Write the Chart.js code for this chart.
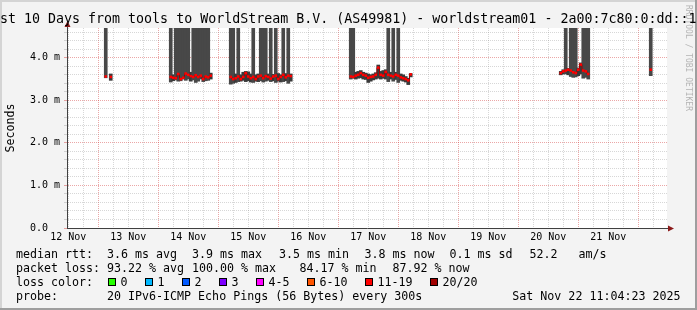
<!DOCTYPE html>
<html lang="en">
<head>
<meta charset="UTF-8">
<title>SmokePing - worldstream01 - Last 10 Days</title>
<script src="https://cdn.jsdelivr.net/npm/chart.js"></script>
<style>
  html, body { margin: 0; padding: 0; background: #f3f3f3; }
  canvas { display: block; }
</style>
</head>
<body>
<canvas id="smokeChart" width="697" height="310"></canvas>
<script>
// x values are hours since 12 Nov 00:00, one sample per hour
const graphStart = 11.5;
const graphEnd = 251.5;

const dayLabels = ['12 Nov', '13 Nov', '14 Nov', '15 Nov', '16 Nov', '17 Nov', '18 Nov', '19 Nov', '20 Nov', '21 Nov'];
const yLabels = ['0.0  ', '1.0 m', '2.0 m', '3.0 m', '4.0 m'];

const hours = [
  27, 29,
  53, 54, 55, 56, 57, 58, 59, 60, 61, 62, 63, 64, 65, 66, 67, 68, 69,
  77, 78, 79, 80, 81, 82, 83, 84, 85, 86, 87, 88, 89, 90, 91, 92, 93, 94, 95, 96, 97, 98, 99, 100, 101,
  125, 126, 127, 128, 129, 130, 131, 132, 133, 134, 135, 136, 137, 138, 139, 140, 141, 142, 143, 144, 145, 146, 147, 148, 149,
  209, 210, 211, 212, 213, 214, 215, 216, 217, 218, 219, 220,
  245
];
// median rtt in ms
const median = [
  3.56, 3.55,
  3.55, 3.53, 3.52, 3.62, 3.50, 3.53, 3.63, 3.60, 3.57, 3.55, 3.59, 3.55, 3.58, 3.50, 3.56, 3.54, 3.58,
  3.55, 3.50, 3.52, 3.56, 3.50, 3.55, 3.64, 3.56, 3.52, 3.55, 3.50, 3.56, 3.58, 3.52, 3.57, 3.55, 3.51, 3.56, 3.58, 3.50, 3.55, 3.60, 3.54, 3.58, 3.57,
  3.56, 3.55, 3.58, 3.60, 3.64, 3.60, 3.58, 3.53, 3.55, 3.56, 3.60, 3.77, 3.60, 3.58, 3.67, 3.60, 3.58, 3.56, 3.60, 3.58, 3.54, 3.52, 3.50, 3.47, 3.61,
  3.64, 3.68, 3.70, 3.72, 3.70, 3.66, 3.64, 3.72, 3.84, 3.70, 3.68, 3.62,
  3.72
];
// smoke (ping spread) bottom and top in ms; 5 means the smoke runs off the top of the graph
const smokeLow = [
  3.53, 3.47,
  3.43, 3.46, 3.48, 3.45, 3.46, 3.50, 3.47, 3.50, 3.45, 3.48, 3.42, 3.45, 3.50, 3.44, 3.46, 3.47, 3.50,
  3.38, 3.40, 3.42, 3.44, 3.45, 3.47, 3.44, 3.46, 3.43, 3.42, 3.45, 3.44, 3.46, 3.43, 3.45, 3.47, 3.44, 3.46, 3.42, 3.45, 3.43, 3.44, 3.46, 3.40, 3.45,
  3.50, 3.52, 3.50, 3.52, 3.53, 3.50, 3.49, 3.42, 3.45, 3.48, 3.50, 3.52, 3.50, 3.52, 3.50, 3.44, 3.50, 3.45, 3.49, 3.42, 3.47, 3.45, 3.43, 3.37, 3.55,
  3.60, 3.62, 3.62, 3.60, 3.56, 3.54, 3.55, 3.58, 3.62, 3.52, 3.54, 3.50,
  3.58
];
const smokeHigh = [
  5, 3.62,
  5, 3.60, 5, 5, 5, 5, 5, 5, 3.66, 5, 5, 5, 5, 5, 5, 5, 3.64,
  5, 5, 3.62, 5, 3.60, 3.66, 3.68, 3.67, 3.62, 5, 3.60, 3.62, 5, 5, 5, 3.62, 5, 3.61, 5, 3.63, 3.60, 5, 3.63, 5, 3.62,
  5, 5, 3.66, 3.68, 3.70, 3.66, 3.64, 3.62, 3.60, 3.62, 3.65, 3.83, 3.68, 3.70, 3.72, 5, 3.66, 5, 3.66, 5, 3.62, 3.60, 3.56, 3.52, 3.63,
  3.68, 3.72, 5, 3.75, 5, 5, 5, 3.76, 3.88, 5, 5, 5,
  5
];

const titleText = 'Last 10 Days from tools to WorldStream B.V. (AS49981) - worldstream01 - 2a00:7c80:0:dd::1';
const rttStats = ['3.6 ms avg', '3.9 ms max', '3.5 ms min', '3.8 ms now', '0.1 ms sd', '52.2', 'am/s'];
const lossStats = ['93.22 % avg', '100.00 % max', '84.17 % min', '87.92 % now'];
const lossLabels = ['0', '1', '2', '3', '4-5', '6-10', '11-19', '20/20'];
const lossColors = ['#26ff00', '#00b8ff', '#0059ff', '#7e00ff', '#ff00ff', '#ff5500', '#ff0000', '#a10000'];
const probeText = '20 IPv6-ICMP Echo Pings (56 Bytes) every 300s';
const stampText = 'Sat Nov 22 11:04:23 2025';

const mono = 'DejaVu Sans Mono';
const minorGrid = 'rgba(140,140,140,0.35)';
const majorGrid = 'rgba(210,60,60,0.45)';

// rrdtool style frame, title, watermark and legend
const rrdDecor = {
    id: 'rrdDecor',
    beforeDraw(chart) {
        const {ctx, chartArea: a, width, height} = chart;
        ctx.save();
        ctx.fillStyle = '#f3f3f3';
        ctx.fillRect(0, 0, width, height);
        ctx.fillStyle = '#d4d4d4';
        ctx.fillRect(0, 0, width, 2);
        ctx.fillRect(0, 0, 2, height);
        ctx.fillStyle = '#9e9e9e';
        ctx.fillRect(0, height - 2, width, 2);
        ctx.fillRect(width - 2, 0, 2, height);
        ctx.fillStyle = '#ffffff';
        ctx.fillRect(a.left, a.top, a.right - a.left, a.bottom - a.top);
        ctx.restore();
    },
    afterDraw(chart) {
        const {ctx, chartArea: a} = chart;
        ctx.save();

        // axis arrows
        ctx.strokeStyle = '#404040';
        ctx.lineWidth = 1;
        ctx.beginPath();
        ctx.moveTo(a.left + 0.5, a.top);
        ctx.lineTo(a.left + 0.5, a.top - 3);
        ctx.moveTo(a.right, a.bottom + 0.5);
        ctx.lineTo(a.right + 2, a.bottom + 0.5);
        ctx.stroke();
        ctx.fillStyle = '#8b1a1a';
        ctx.beginPath();
        ctx.moveTo(a.left + 0.5, a.top - 7);
        ctx.lineTo(a.left - 2.5, a.top - 1);
        ctx.lineTo(a.left + 3.5, a.top - 1);
        ctx.closePath();
        ctx.fill();
        ctx.beginPath();
        ctx.moveTo(a.right + 7, a.bottom + 0.5);
        ctx.lineTo(a.right + 1, a.bottom - 2.5);
        ctx.lineTo(a.right + 1, a.bottom + 3.5);
        ctx.closePath();
        ctx.fill();

        // watermark
        ctx.save();
        ctx.translate(688.5, 5);
        ctx.rotate(Math.PI / 2);
        ctx.font = '8px "' + mono + '"';
        ctx.fillStyle = '#b4b4b4';
        ctx.textBaseline = 'middle';
        ctx.textAlign = 'left';
        ctx.fillText('RRDTOOL / TOBI OETIKER', 0, 0);
        ctx.restore();

        // title (too wide for the image, so it is cut at the left)
        ctx.font = '13.3px "' + mono + '"';
        ctx.fillStyle = '#000';
        ctx.textAlign = 'left';
        ctx.textBaseline = 'alphabetic';
        ctx.fillText(titleText, -16, 23);

        // legend
        ctx.font = '11.65px "' + mono + '"';
        const rows = [257.5, 271.5, 285.5, 299.5];
        ctx.fillText('median rtt:', 16, rows[0]);
        const rttX = [107, 192, 279, 364.5, 449.5, 529.5, 578.5];
        rttStats.forEach((s, i) => ctx.fillText(s, rttX[i], rows[0]));

        ctx.fillText('packet loss:', 16, rows[1]);
        const lossX = [107, 192, 299.5, 392.5];
        lossStats.forEach((s, i) => ctx.fillText(s, lossX[i], rows[1]));

        ctx.fillText('loss color:', 16, rows[2]);
        let bx = 108;
        lossLabels.forEach((lab, i) => {
            const x = Math.round(bx);
            ctx.fillStyle = lossColors[i];
            ctx.fillRect(x, 278, 8, 8);
            ctx.strokeStyle = '#000';
            ctx.strokeRect(x + 0.5, 278.5, 7, 7);
            ctx.fillStyle = '#000';
            ctx.fillText(lab, bx + 12.5, rows[2]);
            bx += 30 + 7 * lab.length;
        });

        ctx.fillText('probe:', 16, rows[3]);
        ctx.fillText(probeText, 107, rows[3]);
        ctx.textAlign = 'right';
        ctx.fillText(stampText, 680.5, rows[3]);
        ctx.restore();
    }
};

function isWhole(v) {
    return Math.abs(v - Math.round(v)) < 1e-6;
}

window.onload = function () {
    const ctx = document.getElementById('smokeChart').getContext('2d');

    const xGrid = [];
    for (let h = 12; h < graphEnd; h += 6) xGrid.push(h);
    const yGrid = [];
    for (let i = 0; i <= 23; i++) yGrid.push(i / 5);

    new Chart(ctx, {
        type: 'bar',
        data: {
            datasets: [{
                type: 'line',
                label: 'median rtt',
                data: hours.map((h, i) => ({x: h, y: median[i]})),
                borderColor: '#9a0000',
                borderWidth: 1,
                stepped: 'middle',
                pointStyle: 'rect',
                pointRadius: 1.8,
                pointBorderWidth: 0,
                pointBackgroundColor: '#ff0000',
                segment: {
                    borderColor: c => (c.p1.parsed.x - c.p0.parsed.x > 1.5 ? 'rgba(0,0,0,0)' : undefined)
                },
                order: 1
            }, {
                type: 'bar',
                label: 'smoke',
                data: hours.map((h, i) => ({x: h, y: [smokeLow[i], smokeHigh[i]]})),
                backgroundColor: c => (c.raw && c.raw.y[1] > 4.7 ? '#484848' : '#3a3a3a'),
                borderWidth: 0,
                barThickness: 3,
                grouped: false,
                order: 2
            }]
        },
        options: {
            responsive: false,
            animation: false,
            events: [],
            layout: { padding: { top: 28, right: 30, left: 0, bottom: 0 } },
            plugins: {
                legend: { display: false },
                tooltip: { enabled: false },
                title: { display: false }
            },
            scales: {
                x: {
                    type: 'linear',
                    min: graphStart,
                    max: graphEnd,
                    offset: false,
                    afterBuildTicks: s => { s.ticks = xGrid.map(v => ({value: v})); },
                    afterFit: s => { s.height = 82; },
                    grid: {
                        offset: false,
                        drawTicks: false,
                        lineWidth: 1,
                        color: c => (c.tick && c.tick.value % 24 === 0 ? majorGrid : minorGrid)
                    },
                    border: { display: true, color: '#404040', width: 1, dash: [1, 1] },
                    ticks: {
                        autoSkip: false,
                        maxRotation: 0,
                        minRotation: 0,
                        padding: 3,
                        color: '#000',
                        font: { family: mono, size: 10 },
                        callback: v => {
                            const d = (v - 12) / 24;
                            return Number.isInteger(d) ? dayLabels[d] : '';
                        }
                    }
                },
                y: {
                    type: 'linear',
                    min: 0,
                    max: 4.7,
                    afterBuildTicks: s => { s.ticks = yGrid.map(v => ({value: v})); },
                    afterFit: s => { s.width = 67; },
                    grid: {
                        drawTicks: true,
                        tickLength: 3,
                        lineWidth: 1,
                        color: c => (c.tick && isWhole(c.tick.value) ? majorGrid : minorGrid)
                    },
                    border: { display: true, color: '#404040', width: 1, dash: [1, 1] },
                    title: {
                        display: true,
                        text: 'Seconds',
                        color: '#000',
                        font: { family: mono, size: 11.65 },
                        padding: { top: 3.5, bottom: 0 }
                    },
                    ticks: {
                        autoSkip: false,
                        padding: 4,
                        color: '#000',
                        font: { family: mono, size: 10 },
                        callback: v => (isWhole(v) ? yLabels[Math.round(v)] : '')
                    }
                }
            }
        },
        plugins: [rrdDecor]
    });
};
</script>
</body>
</html>
